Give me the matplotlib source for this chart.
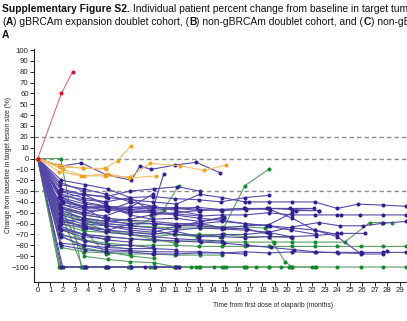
import numpy as np
import matplotlib
matplotlib.use("Agg")
import matplotlib.pyplot as plt

plt.rcParams['font.family'] = ['Liberation Sans', 'DejaVu Sans']

# Percent change from baseline per patient, one line each (time in months)
red_t = [[0, 1.9, 2.8]]
red_v = [[0, 60, 80]]

orange_t = [[0, 1.7, 3.6, 5.4, 6.4, 7.5],
            [0, 1.7, 3.5, 5.4, 7.4, 9.0, 11.4, 13.3, 15.1],
            [0, 2.0, 3.7, 5.6, 7.3, 9.5],
            [0, 1.8, 3.6, 5.5]]
orange_v = [[0, -6, -9, -9, -2, 12],
            [0, -12, -16, -16, -17, -4.5, -6.5, -11, -6],
            [0, -10, -16, -14, -18, -16],
            [0, -8, -8.5, -10]]

blue_t = [[0, 1.9, 3.5, 5.5, 7.5, 8.2, 9.1, 11.0, 12.7, 14.6],
          [0, 1.8, 3.7, 5.5, 7.4, 9.3, 10.1],
          [0, 1.9, 3.7, 5.6, 7.4, 9.2, 11.1, 13.0, 14.8, 16.6, 16.9, 18.5, 20.4, 22.2, 24.0, 25.7, 27.7, 29.5],
          [0, 1.8, 3.7, 5.5, 7.4, 9.2, 11.1, 13.0, 14.8, 16.6, 18.5, 20.4, 22.2, 24.0, 24.3, 25.8, 27.7, 29.5],
          [0, 1.9, 3.6, 5.5, 7.4, 9.3, 11.1, 13.0, 14.8, 16.7, 18.5, 20.4, 22.5, 24.2, 26.1, 27.7, 29.5],
          [0, 1.8, 3.7, 5.6, 7.5, 9.2, 11.0, 12.9, 14.8, 16.6, 18.4, 20.3, 22.3, 24.0, 24.3, 26.2],
          [0, 1.9, 3.7, 5.5, 7.4, 9.3, 11.1, 12.9, 14.8, 16.6, 18.5, 20.4, 22.2, 24.0, 25.9, 27.7, 29.5],
          [0, 1.8, 3.7, 5.6, 7.4, 9.2, 11.1, 13.0, 14.8, 16.6, 18.6, 20.4, 22.2, 24.0, 25.9, 27.7, 28.0],
          [0, 1.9, 3.8, 5.5, 7.4, 9.2, 11.1, 13.0, 14.8, 16.7, 18.5, 20.4, 22.5],
          [0, 1.8, 3.7, 5.5, 7.4, 9.3, 11.1, 12.9, 14.8, 16.6, 18.5, 20.4, 20.7, 22.5],
          [0, 2.0, 3.7, 5.6, 7.4, 9.2, 11.1, 13.0, 14.8, 16.6, 18.6, 20.4, 22.2, 24.0],
          [0, 1.8, 3.7],
          [0, 1.7, 3.6, 5.5],
          [0, 1.9, 3.8, 5.6, 7.5],
          [0, 1.8, 3.6, 5.4, 7.4, 9.2],
          [0, 1.9, 3.7, 5.5, 7.3, 9.1, 11.0, 12.9],
          [0, 1.8, 3.9, 5.6, 7.5, 9.4, 11.3, 13.1, 14.9],
          [0, 1.7, 3.7, 5.5, 7.4],
          [0, 1.9, 3.6, 5.6],
          [0, 1.8, 3.7, 5.5, 7.4, 9.3, 11.1],
          [0, 1.9, 3.8, 5.5, 7.4, 9.2, 11.1, 13.0, 14.8, 16.6],
          [0, 2.0, 3.8, 5.5, 7.5, 9.4, 11.3],
          [0, 1.9, 3.9, 5.6, 7.5, 8.6, 11.1],
          [0, 1.8, 3.7, 5.4, 7.4, 9.2, 11.0, 12.9, 14.7, 16.6, 18.5],
          [0, 1.9, 3.6, 5.5, 7.4, 9.3, 11.2, 13.0],
          [0, 1.8, 3.7, 5.6, 7.4, 9.2, 11.0, 12.9, 14.8, 16.6, 18.4, 20.3, 22.3],
          [0, 1.9, 3.7, 5.5, 7.4, 9.3, 11.1, 12.9, 14.8],
          [0, 1.8, 3.8, 5.6, 7.4, 9.2],
          [0, 2.0, 3.7, 5.5, 7.3, 9.1, 11.0, 12.8, 14.7, 16.5, 18.4, 20.2, 22.1],
          [0, 1.9, 3.6, 5.5, 7.4, 9.2, 10.9, 12.9, 14.8, 16.6, 18.5, 20.4],
          [0, 1.7, 3.7, 5.6, 7.5, 9.3, 11.2, 13.1, 14.9, 16.8, 18.7, 20.5, 22.3, 24.1, 26.0],
          [0, 1.8, 3.7, 5.5, 7.4, 9.2, 11.1, 13.0, 14.9],
          [0, 1.9, 3.8, 5.6, 7.4, 9.3],
          [0, 1.8, 3.6, 5.5, 7.4, 9.3, 11.2, 13.1, 14.9, 16.8, 18.6],
          [0, 1.8, 3.7, 5.5, 7.4, 9.2],
          [0, 1.9, 3.7, 5.6, 7.4, 9.3, 11.1, 13.0],
          [0, 1.7, 3.6, 5.5, 7.3]]
blue_v = [[0, -7, -4, -15, -20, -7, -10, -6, -3.5, -13],
          [0, -24, -28, -33, -40, -44, -14],
          [0, -30, -33, -36, -38, -40, -42, -33, -36, -40, -40, -40, -40, -40, -46, -42, -43, -44],
          [0, -42, -48, -47, -50, -49, -51, -53, -52, -52, -50, -52, -52, -52, -52, -52, -52, -52],
          [0, -52, -58, -60, -62, -64, -66, -64, -65, -66, -68, -63, -59, -62, -62, -59.6, -58],
          [0, -58, -62, -66, -68, -70, -67, -72, -70, -70, -68, -72, -71, -69, -69, -69],
          [0, -72, -80, -84, -85, -86, -86, -86, -87, -86, -87, -86, -86.5, -86.5, -86.5, -86.5, -86.5],
          [0, -46, -52, -55, -57, -58, -60, -60, -58, -60, -62, -64, -66, -72, -88, -88, -85],
          [0, -36, -42, -44, -45, -46, -45, -47, -48, -47, -46, -47, -48],
          [0, -50, -55, -58, -60, -60, -62, -62, -64, -62, -61, -50, -48, -48],
          [0, -40, -44, -46, -47, -45, -46, -48, -47, -46, -47, -55, -66, -70],
          [0, -22, -30],
          [0, -30, -36, -40],
          [0, -38, -44, -48, -40],
          [0, -44, -50, -53, -45, -33],
          [0, -48, -55, -58, -56, -52, -50, -48],
          [0, -56, -64, -66, -60, -60, -62, -58, -55],
          [0, -62, -70, -75, -77],
          [0, -66, -72, -74],
          [0, -78, -80, -82, -83, -83, -84],
          [0, -80, -84, -86, -86, -88, -88, -87, -87, -88],
          [0, -100, -100, -100, -100, -100, -100],
          [0, -100, -100, -100, -100, -100, -100],
          [0, -34, -38, -40, -36, -35, -37, -38, -40, -36, -34],
          [0, -28, -33, -35, -30, -28, -26, -30],
          [0, -42, -46, -45, -48, -50, -52, -55, -57, -60, -62, -66, -70],
          [0, -60, -64, -68, -70, -72, -74, -75, -76],
          [0, -70, -76, -80, -80, -82],
          [0, -40, -45, -44, -47, -48, -46, -45, -47, -46, -46, -46, -46],
          [0, -55, -60, -62, -64, -66, -70, -71, -72, -73, -72, -72],
          [0, -64, -70, -72, -74, -75, -76, -77, -78, -80, -82, -84, -86, -87, -87.5],
          [0, -36, -33, -43, -52, -56, -55, -58, -54],
          [0, -20, -24, -28, -36, -50],
          [0, -58, -56, -62, -66, -68, -62, -60, -64, -65, -70],
          [0, -32, -40, -44, -50, -47],
          [0, -46, -50, -47, -45, -44, -48, -52],
          [0, -35, -45, -57, -60]]

green_t = [[0, 1.84, 3.5],
           [0, 1.7, 3.6, 5.5, 7.4, 9.2, 11.1, 12.9, 14.8, 16.7, 18.5, 20.4, 22.2, 24.0, 25.9, 27.7, 29.5],
           [0, 1.8, 3.7, 5.6, 7.5, 9.0, 11.0, 12.7, 14.1, 15.1, 16.5],
           [0, 1.75, 3.9, 5.4, 7.2, 9.4, 10.9, 12.3],
           [0, 3.6, 5.5, 7.4, 9.3, 11.3, 13.0, 14.9, 16.7, 17.5, 18.5, 19.5, 20.1, 20.3, 22.0, 22.3],
           [0, 1.8, 3.7, 5.5, 7.4, 9.2, 11.1, 12.9, 14.8, 16.6, 18.2, 18.9, 19.8, 20.4],
           [0, 1.9, 3.6, 5.5, 7.4, 9.3, 11.1, 13.0, 14.9, 16.6, 18.5],
           [0, 1.8, 3.7, 5.5, 7.4, 9.2, 10.1, 11.3],
           [0, 1.9, 3.7, 5.5, 7.4, 9.2, 11.1, 12.9, 14.8, 16.6, 18.5, 20.4, 22.2, 24.0, 25.9, 27.7, 29.5],
           [0, 1.8, 3.6, 5.5, 7.4, 9.3, 11.1, 13.0, 14.8, 16.6, 18.9, 20.4, 22.2, 24.6, 26.6, 27.6, 28.4],
           [0, 1.8, 3.7, 5.6, 7.4],
           [0, 1.7, 3.6, 5.5, 7.5, 9.3],
           [0, 1.8, 3.9, 5.5, 7.4, 9.2, 11.0, 12.8, 14.6],
           [0, 3.7, 5.6, 7.4, 9.3, 11.1],
           [0, 1.9, 3.7, 5.5, 7.4, 9.2, 11.1, 12.9, 14.9, 16.6, 18.5, 20.4],
           [0, 1.8, 3.6, 5.5],
           [0, 1.9, 3.7, 5.6, 7.4, 9.3, 11.0, 13.0, 14.8],
           [0, 1.8, 3.7, 5.5, 7.4, 9.2, 11.0]]
green_v = [[0, 0, -100],
           [0, -100, -100, -100, -100, -100, -100, -100, -100, -100, -100, -100, -100, -100, -100, -100, -100],
           [0, -100, -100, -100, -100, -100, -100, -100, -100, -100, -100],
           [0, -100, -100, -100, -100, -100, -100, -100],
           [0, -100, -100, -100, -100, -100, -100, -100, -100, -100, -100, -100, -100, -100, -100, -100],
           [0, -45, -52, -55, -58, -60, -61, -62, -63, -63, -64, -78, -95, -100],
           [0, -48, -55, -60, -62, -63, -64, -64, -64, -25, -10],
           [0, -50, -58, -62, -64, -55, -47, -25],
           [0, -70, -75, -78, -80, -80, -80, -81, -81, -81, -81, -81, -81, -81, -81, -81, -81],
           [0, -65, -70, -72, -74, -76, -76, -76, -77, -77, -77, -77, -77, -77, -59, -59, -59],
           [0, -64, -75, -80, -84],
           [0, -70, -82, -86, -90, -92],
           [0, -44, -60, -66, -70, -72, -70, -72, -72],
           [0, -90, -93, -95, -96, -100],
           [0, -58, -62, -66, -68, -69, -70, -70, -70, -72, -72, -73],
           [0, -52, -65, -88],
           [0, -82, -86, -87, -88, -88, -89, -89, -89],
           [0, -60, -67, -68, -70, -74, -78]]

x_ticks = list(range(0, 30))
y_ticks = list(range(-100, 101, 10))
ref_lines = [20, 0, -30]

fig = plt.figure(figsize=(4.07, 3.21), dpi=100)
ax = fig.add_axes([0.0834, 0.1215, 0.9445, 0.726])


def draw_group(ts, vs, line_col, dot_col, z):
    for t, v in zip(ts, vs):
        ax.plot(t, v, color=line_col, lw=0.8, zorder=z)
        ax.plot(t, v, ls='none', marker='o', ms=2.9, mfc=dot_col, mec=dot_col, mew=0, zorder=z + 0.5)


for y in ref_lines:
    ax.axhline(y, color='#8c8c8c', lw=1.0, dashes=(3.2, 2.2), zorder=1)

draw_group(green_t, green_v, '#5a9e64', '#14892c', 2)
draw_group(blue_t, blue_v, '#5549a8', '#36208f', 3)
draw_group(orange_t, orange_v, '#f0bd6a', '#f2a31e', 4)
draw_group(red_t, red_v, '#d0707c', '#d5102f', 5)

ax.set_xlim(-0.3, 30.5)
ax.set_ylim(-113.8, 101)
ax.set_xticks(x_ticks)
ax.set_yticks(y_ticks)
ax.tick_params(labelsize=5.6, length=2.6, width=0.7, pad=1.2, colors='#222222')
for s in ['top', 'right']:
    ax.spines[s].set_visible(False)
for s in ['left', 'bottom']:
    ax.spines[s].set_linewidth(0.8)
    ax.spines[s].set_color('#222222')

ax.set_ylabel('Change from baseline in target lesion size (%)', fontsize=4.8, color='#222222')
ax.yaxis.set_label_coords(-0.056, 0.5)
ax.set_xlabel('Time from first dose of olaparib (months)', fontsize=4.8, color='#222222')
ax.xaxis.set_label_coords(0.623, -0.085)


def write_segments(x, y, segments, size):
    renderer = fig.canvas.get_renderer()
    for txt, weight in segments:
        t = fig.text(x, y, txt, fontsize=size, fontweight=weight, va='baseline', color='#111111')
        x += t.get_window_extent(renderer).width / fig.bbox.width


write_segments(2 / 407, 1 - 12 / 321,
               [('Supplementary Figure S2.', 'bold'),
                (' Individual patient percent change from baseline in target tum', 'normal')], 7.35)
write_segments(2 / 407, 1 - 25 / 321,
               [('(', 'normal'), ('A', 'bold'), (') gBRCAm expansion doublet cohort, (', 'normal'),
                ('B', 'bold'), (') non-gBRCAm doublet cohort, and (', 'normal'),
                ('C', 'bold'), (') non-gB', 'normal')], 7.35)
fig.text(2 / 407, 1 - 38 / 321, 'A', fontsize=7.35, fontweight='bold', va='baseline', color='#111111')

fig.savefig('out.png', dpi=100)
